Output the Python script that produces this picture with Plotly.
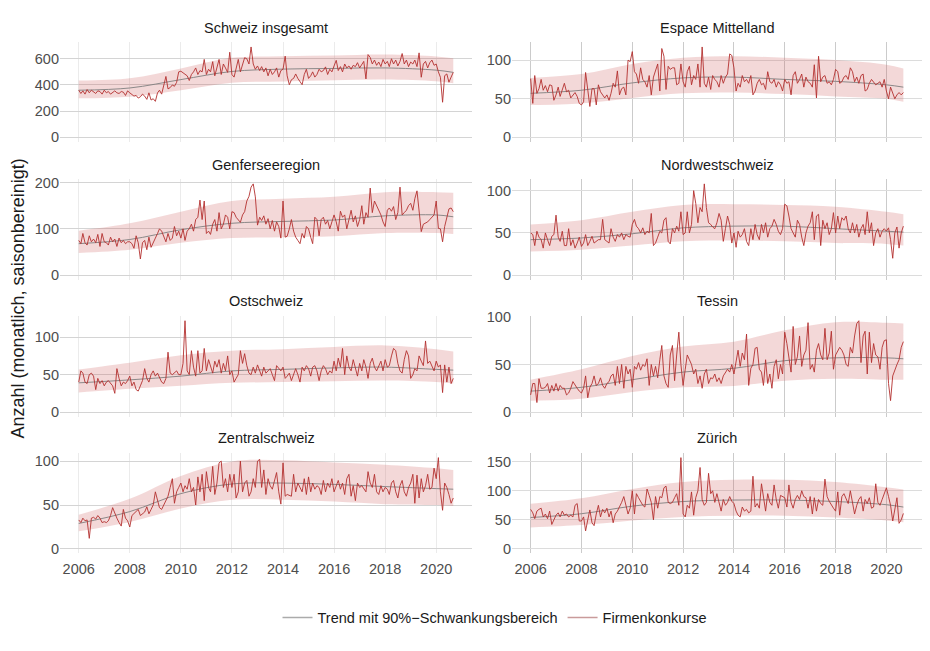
import pandas as pd
import plotly.graph_objects as go

# ---------------- data (monthly, Jan 2006 - Sep 2020) ----------------
schweiz = [
    360,335,355,330,365,340,360,345,335,355,350,330,
    360,340,350,330,345,355,340,335,350,345,320,355,
    340,330,315,320,300,310,330,315,290,340,285,295,
    275,340,360,330,390,465,370,380,400,390,420,500,
    505,495,480,470,434,480,500,530,480,510,500,595,
    480,520,500,578,470,540,595,480,560,530,496,650,
    480,460,520,595,500,560,608,600,560,690,560,520,
    545,510,540,500,530,470,520,480,500,530,460,510,
    520,620,470,402,440,450,484,450,420,402,480,520,
    450,470,500,460,480,520,500,510,538,480,520,500,
    545,588,510,540,500,560,530,545,520,550,540,570,
    530,560,580,446,632,610,560,590,550,575,540,595,
    560,580,540,600,560,590,545,580,640,560,590,540,
    575,560,590,540,645,459,560,580,530,570,590,550,
    560,500,459,268,471,484,421,460,496]
espace = [
    76,44,80,57,63,75,61,67,59,68,67,48,
    55,65,53,61,70,59,61,51,55,58,53,44,
    42,46,84,59,40,63,63,42,68,59,55,51,
    55,48,57,70,65,86,55,63,65,55,100,98,
    111,85,82,70,90,75,72,65,80,55,78,88,
    95,60,115,105,62,92,88,90,90,68,70,95,
    72,65,85,92,68,80,75,95,65,117,70,65,
    78,62,80,75,72,65,80,70,78,82,108,106,
    90,60,70,65,80,72,75,70,80,55,60,70,
    75,68,70,62,85,72,70,75,65,72,68,60,
    75,70,72,55,80,85,70,75,82,65,78,72,
    70,65,94,51,105,72,78,80,70,72,68,75,
    88,85,70,72,78,80,75,90,85,72,78,70,
    80,82,60,62,70,75,72,68,70,72,65,75,
    60,50,65,58,50,55,58,55,58]
genf = [
    75,68,90,70,65,85,72,78,70,88,62,90,
    72,70,65,82,72,78,62,80,70,75,68,72,
    72,68,58,85,70,35,70,75,55,82,60,72,
    80,90,100,95,85,72,90,75,80,105,85,95,
    80,100,75,95,100,110,95,120,125,162,120,160,
    90,95,88,110,120,95,135,100,110,130,125,100,
    137,135,125,120,114,130,137,160,170,190,197,169,
    108,125,118,128,110,122,100,118,95,115,105,80,
    160,82,84,100,120,95,82,75,68,90,80,105,
    100,82,68,125,120,85,120,125,110,118,100,115,
    130,115,95,138,125,130,100,120,140,115,128,105,
    120,150,110,135,125,188,135,160,150,140,130,115,
    105,140,145,138,148,120,135,190,130,135,140,150,
    155,140,165,182,140,94,110,112,115,120,125,130,
    160,101,100,72,105,126,143,145,137]
nordwest = [
    50,48,35,52,45,42,32,50,42,35,46,48,
    71,45,40,52,35,35,55,35,42,32,38,45,
    34,38,48,35,40,46,38,40,42,42,66,42,
    40,38,55,45,40,48,45,50,42,48,46,45,
    60,66,58,55,50,56,48,52,50,73,35,38,
    45,52,50,65,68,40,37,55,50,58,52,75,
    48,50,75,50,60,100,85,62,80,75,108,80,
    62,60,57,55,62,73,65,40,55,70,60,38,
    50,33,52,45,48,55,40,35,55,42,60,48,
    42,60,50,62,45,55,58,66,60,52,48,55,
    84,82,70,55,50,45,65,60,45,35,50,58,
    62,75,42,70,72,35,65,55,62,48,55,74,
    50,70,55,68,65,70,55,50,62,50,60,45,
    55,60,48,75,50,62,35,50,55,45,52,55,
    52,56,42,20,50,57,32,50,58]
ost = [
    40,55,52,40,38,50,52,48,30,45,38,42,
    35,40,42,38,35,25,58,45,35,40,38,42,
    48,35,40,30,28,35,42,58,45,40,50,55,
    48,52,45,40,38,45,80,52,50,53,55,50,
    50,65,122,55,50,82,60,48,82,52,55,85,
    55,70,60,52,68,60,70,52,65,55,75,50,
    55,40,45,50,82,65,78,62,52,50,60,52,
    63,55,48,60,52,55,58,50,42,62,58,55,
    60,45,48,52,42,50,58,50,40,60,55,62,
    58,48,60,62,55,42,55,62,58,50,55,52,
    68,55,72,60,85,50,75,60,55,70,58,48,
    65,55,70,60,45,65,72,60,55,62,68,55,
    70,60,62,75,85,82,65,55,52,70,82,75,
    45,50,58,55,75,68,62,95,65,68,60,55,
    68,60,63,26,63,40,60,38,45]
tessin = [
    18,30,30,10,35,25,25,26,30,20,28,22,
    30,22,28,25,25,18,20,25,32,28,25,22,
    20,25,38,15,26,30,38,28,30,36,28,25,
    30,32,38,40,28,48,30,50,25,48,40,45,
    26,48,45,52,44,50,48,56,28,50,38,48,
    36,55,70,38,30,26,60,70,33,60,84,50,
    28,45,60,55,50,40,45,30,38,25,40,45,
    30,36,35,40,32,36,30,38,42,45,42,50,
    40,55,65,48,62,55,82,28,46,50,67,68,
    45,42,28,55,30,40,25,48,55,35,50,40,
    84,72,55,42,90,50,58,80,48,60,65,94,
    45,50,42,65,72,60,55,88,55,62,85,45,
    60,65,68,65,60,50,48,68,62,80,93,96,
    52,80,85,40,84,52,72,60,58,45,68,75,
    76,30,12,38,45,50,55,68,74]
zentral = [
    33,30,35,32,33,12,35,36,34,38,35,30,
    31,30,32,38,47,40,35,30,26,45,35,32,
    25,38,40,42,45,38,40,42,48,40,45,50,
    65,55,47,45,50,55,60,70,80,52,65,70,
    75,65,72,68,80,65,70,50,82,65,85,55,
    88,70,65,94,62,75,98,100,70,80,65,85,
    70,85,58,65,100,65,75,78,60,65,80,70,
    100,102,70,90,62,80,72,68,78,87,65,51,
    98,60,62,61,60,85,65,75,70,65,80,62,
    82,65,75,68,72,70,62,78,65,75,70,80,
    65,72,78,68,75,62,80,85,60,72,55,75,
    70,72,68,65,88,75,70,85,65,62,72,65,
    70,68,62,75,78,65,58,72,78,65,60,70,
    75,85,52,84,58,80,65,72,85,68,70,92,
    80,104,65,44,75,70,62,52,58]
zuerich = [
    68,62,52,65,68,70,55,60,52,65,42,50,
    58,62,55,65,58,60,55,58,55,75,78,48,
    48,55,31,50,67,45,40,60,75,55,68,62,
    70,55,65,45,60,65,72,80,90,75,60,70,
    100,60,95,88,82,75,72,103,92,80,50,90,
    70,90,88,105,108,80,78,80,88,95,75,157,
    60,55,75,70,98,58,88,100,140,85,75,80,
    130,95,100,80,95,78,65,85,75,80,90,82,
    78,65,58,55,72,65,68,62,65,125,72,78,
    70,112,85,65,95,80,75,110,85,70,92,90,
    88,72,110,80,70,85,92,85,100,90,88,70,
    90,60,88,65,85,78,75,120,90,82,75,70,
    65,98,58,90,95,85,78,100,82,60,75,85,
    90,65,85,78,88,70,72,112,80,75,85,95,
    105,90,75,48,65,88,44,50,61]

# trend with 90% band, read at these dates
knot_dates = ["2006-01-01", "2008-01-01", "2010-01-01", "2012-01-01", "2014-01-01",
              "2016-01-01", "2018-01-01", "2020-01-01", "2020-09-01"]
schweiz_trend = [360, 377, 441, 503, 521, 526, 530, 513, 496]
schweiz_lo    = [298, 310, 360, 417, 427, 436, 441, 428, 414]
schweiz_hi    = [434, 451, 526, 607, 620, 625, 632, 618, 603]
espace_trend = [57, 61, 70.5, 77, 78, 75, 72.5, 68, 65]
espace_lo    = [42, 44, 51, 57, 58, 56, 53, 50, 46]
espace_hi    = [77, 82, 95, 103, 105, 103, 100, 94, 89]
genf_trend = [68, 77, 98, 112, 116, 119, 128, 130, 126]
genf_lo    = [48, 55, 70, 80, 82, 84, 91, 91, 89]
genf_hi    = [96, 112, 137, 160, 165, 169, 179, 179, 178]
nordwest_trend = [42, 44, 49, 56, 58, 58, 55, 52, 51]
nordwest_lo    = [28, 30, 35, 40, 41, 40, 38, 37, 35]
nordwest_hi    = [60, 65, 75, 83, 84, 83, 81, 75, 72]
ost_trend = [39, 43, 48, 55, 57, 59, 60, 57, 56]
ost_lo    = [26, 31, 35, 39, 40, 41, 42, 40, 38]
ost_hi    = [57, 66, 76, 82, 84, 87, 89, 84, 81]
tessin_trend = [22, 26, 34, 42, 46, 54, 57, 57, 56]
tessin_lo    = [12, 14, 21, 26, 27.5, 33, 35, 34, 34]
tessin_hi    = [34, 45, 59, 69, 74, 86, 94.5, 94, 93]
zentral_trend = [29, 42.5, 63, 74, 75, 73.5, 71, 68.7, 68]
zentral_lo    = [20, 30.6, 46, 56, 56, 54, 51, 50, 49]
zentral_hi    = [39, 57, 83, 99.6, 101, 98.5, 96, 92, 90]
zuerich_trend = [54, 60.5, 73.5, 81.5, 84, 84, 81.5, 76, 72]
zuerich_lo    = [37, 41, 49, 55, 57, 57, 54, 49, 46]
zuerich_hi    = [77.5, 87, 103, 115, 119, 119, 115, 106, 102]

titles = ["Schweiz insgesamt", "Espace Mittelland", "Genferseeregion", "Nordwestschweiz",
          "Ostschweiz", "Tessin", "Zentralschweiz", "Zürich"]
series = [schweiz, espace, genf, nordwest, ost, tessin, zentral, zuerich]
trends = [schweiz_trend, espace_trend, genf_trend, nordwest_trend,
          ost_trend, tessin_trend, zentral_trend, zuerich_trend]
lows = [schweiz_lo, espace_lo, genf_lo, nordwest_lo, ost_lo, tessin_lo, zentral_lo, zuerich_lo]
highs = [schweiz_hi, espace_hi, genf_hi, nordwest_hi, ost_hi, tessin_hi, zentral_hi, zuerich_hi]
y_dticks = [200, 50, 100, 50, 50, 50, 50, 50]
year_ticks = ["2006", "2008", "2010", "2012", "2014", "2016", "2018", "2020"]

for s in series:
    assert len(s) == 177, len(s)

# ---------------- figure ----------------
W, H = 930, 651
months = pd.date_range("2006-01-01", periods=177, freq="MS")
knots = pd.to_datetime(knot_dates)
span = months[-1] - months[0]
x_range = [str(months[0] - span * 0.05), str(months[-1] + span * 0.05)]

FONT = "Liberation Sans, Arial, Helvetica, sans-serif"
DATA_COL = "#b3302f"
TREND_COL = "#7f7f7f"
BAND_COL = "rgba(205,92,92,0.24)"

col_dom = [[60 / W, 472 / W], [512 / W, 922 / W]]
row_px = [(36, 137), (175, 277), (314, 416), (453, 555)]

fig = go.Figure()
layout = dict()
annotations = []
for k in range(8):
    r, c = divmod(k, 2)
    ax = "" if k == 0 else str(k + 1)
    xa, ya = "x" + ax, "y" + ax
    top, bot = row_px[r]
    ydom = [1 - bot / H, 1 - top / H]

    fig.add_trace(go.Scatter(x=knots, y=lows[k], mode="lines", line=dict(width=0, shape="spline"),
                             showlegend=False, hoverinfo="skip", xaxis=xa, yaxis=ya))
    fig.add_trace(go.Scatter(x=knots, y=highs[k], mode="lines", line=dict(width=0, shape="spline"),
                             fill="tonexty", fillcolor=BAND_COL, showlegend=False,
                             hoverinfo="skip", xaxis=xa, yaxis=ya))
    fig.add_trace(go.Scatter(x=knots, y=trends[k], mode="lines",
                             line=dict(color=TREND_COL, width=0.9, shape="spline"),
                             showlegend=False, xaxis=xa, yaxis=ya))
    fig.add_trace(go.Scatter(x=months, y=series[k], mode="lines",
                             line=dict(color=DATA_COL, width=0.9),
                             showlegend=False, xaxis=xa, yaxis=ya))

    ymax = max(max(series[k]), max(highs[k]))
    vgrid = "#ebebeb" if c == 0 else "#cbcbcb"
    hgrid = "#d4d4d4" if c == 0 else "#dcdcdc"
    layout["xaxis" + ax] = dict(
        domain=col_dom[c], anchor=ya, range=x_range, type="date",
        tickvals=pd.to_datetime([t + "-01-01" for t in year_ticks]), ticktext=year_ticks,
        showticklabels=(r == 3), showgrid=True, gridcolor=vgrid, gridwidth=1,
        zeroline=False, showline=False, ticks="", ticklabelstandoff=5,
        tickfont=dict(family=FONT, size=14.5, color="#4d4d4d"))
    layout["yaxis" + ax] = dict(
        domain=ydom, anchor=xa, range=[-0.05 * ymax, 1.05 * ymax],
        tick0=0, dtick=y_dticks[k], showgrid=True, gridcolor=hgrid, gridwidth=1,
        zeroline=False, showline=False, ticks="",
        tickfont=dict(family=FONT, size=14.5, color="#4d4d4d"))
    annotations.append(dict(
        text=titles[k], xref="paper", yref="paper",
        x=(col_dom[c][0] + col_dom[c][1]) / 2, y=1 - (top - 15) / H,
        xanchor="center", yanchor="middle", showarrow=False,
        font=dict(family=FONT, size=14.5, color="#1a1a1a")))

annotations.append(dict(
    text="Anzahl (monatlich, saisonbereinigt)", xref="paper", yref="paper",
    x=18 / W, y=1 - 296 / H, xanchor="center", yanchor="middle", textangle=-90,
    showarrow=False, font=dict(family=FONT, size=18, color="#1a1a1a")))

# legend entries
fig.add_trace(go.Scatter(x=[None], y=[None], mode="lines", name="Trend mit 90%−Schwankungsbereich",
                         line=dict(color="#ababab", width=1.5)))
fig.add_trace(go.Scatter(x=[None], y=[None], mode="lines", name="Firmenkonkurse",
                         line=dict(color="#c99b9b", width=1.5)))

fig.update_layout(
    width=W, height=H, margin=dict(l=0, r=0, t=0, b=0),
    paper_bgcolor="white", plot_bgcolor="white",
    font=dict(family=FONT, size=14.5, color="#1a1a1a"),
    annotations=annotations,
    legend=dict(orientation="h", traceorder="normal", x=495 / W, xanchor="center",
                y=1 - 620 / H, yanchor="middle",
                font=dict(family=FONT, size=14.5, color="#1a1a1a"), itemwidth=30,
                bgcolor="rgba(0,0,0,0)"),
    hovermode=False,
    **layout)

fig.write_html("out.html", config={"displayModeBar": False},
               post_script="document.body.style.margin='0px';")
